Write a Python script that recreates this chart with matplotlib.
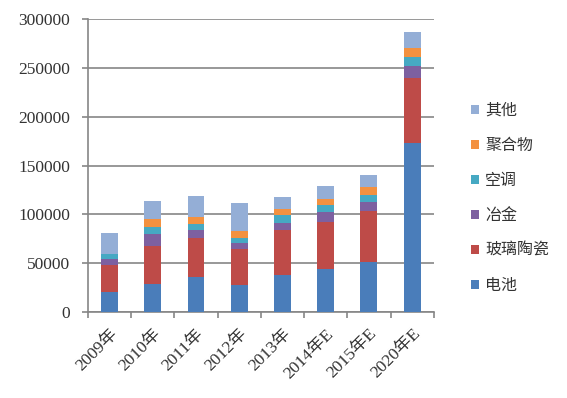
import matplotlib.pyplot as plt
import numpy as np

# categories and stacked series
years = ['2009年', '2010年', '2011年', '2012年', '2013年', '2014年E', '2015年E', '2020年E']
battery = [20500, 28300, 36200, 27300, 37600, 43700, 51200, 173400]
glass = [27600, 39600, 39900, 37500, 46400, 48800, 52200, 65900]
metal = [5900, 11600, 8200, 6200, 7400, 9500, 9600, 12600]
aircon = [5100, 7900, 6100, 4800, 7900, 7600, 7100, 9500]
polymer = [0, 7800, 6900, 6800, 5800, 6100, 7500, 8600]
other = [21800, 18500, 21500, 28700, 13000, 13300, 12700, 16400]

series = [
    ('电池', battery, '#4A7DBA'),
    ('玻璃陶瓷', glass, '#BE4B48'),
    ('冶金', metal, '#7D60A0'),
    ('空调', aircon, '#46A9C3'),
    ('聚合物', polymer, '#F39140'),
    ('其他', other, '#94AED6'),
]

fig = plt.figure(figsize=(5.67, 3.98), dpi=100)
ax = fig.add_axes([0.155, 0.216, 0.61, 0.736])

x = np.arange(len(years))
bottom = np.zeros(len(years))
handles = []
for name, vals, color in series:
    b = ax.bar(x, vals, width=0.39, bottom=bottom, color=color, label=name, zorder=3)
    handles.append(b)
    bottom += np.array(vals)

grey = '#868686'
ax.set_ylim(0, 300000)
ax.set_xlim(-0.5, len(years) - 0.5)
ax.set_yticks(range(0, 300001, 50000))
ax.yaxis.grid(True, color=grey, linewidth=1.2, zorder=0)
for s in ['top', 'right']:
    ax.spines[s].set_visible(False)
for s in ['left', 'bottom']:
    ax.spines[s].set_color(grey)
    ax.spines[s].set_linewidth(1.2)

ax.tick_params(axis='y', colors=grey, length=4, width=1.2, labelcolor='#333333', pad=9)
for lab in ax.get_yticklabels():
    lab.set_family('Liberation Serif')
    lab.set_fontsize(12.5)

ax.set_xticks(x)
ax.set_xticks(np.arange(-0.5, len(years)), minor=True)
ax.tick_params(axis='x', which='major', length=0, pad=10)
ax.tick_params(axis='x', which='minor', length=4, width=1.2, color=grey)
ax.set_xticklabels(years, rotation=45, ha='right', rotation_mode='anchor',
                   family=['Liberation Serif', 'Noto Sans CJK SC'], fontsize=12.5,
                   color='#333333')

leg = fig.legend(handles[::-1], [s[0] for s in series][::-1],
                 loc='upper left', bbox_to_anchor=(0.805, 0.78),
                 frameon=False, prop={'family': 'Noto Sans CJK SC', 'size': 11.5},
                 handlelength=0.5, handleheight=0.5, handletextpad=0.4,
                 labelspacing=1.13)
for t in leg.get_texts():
    t.set_color('#333333')

fig.savefig('out.png', dpi=100)
